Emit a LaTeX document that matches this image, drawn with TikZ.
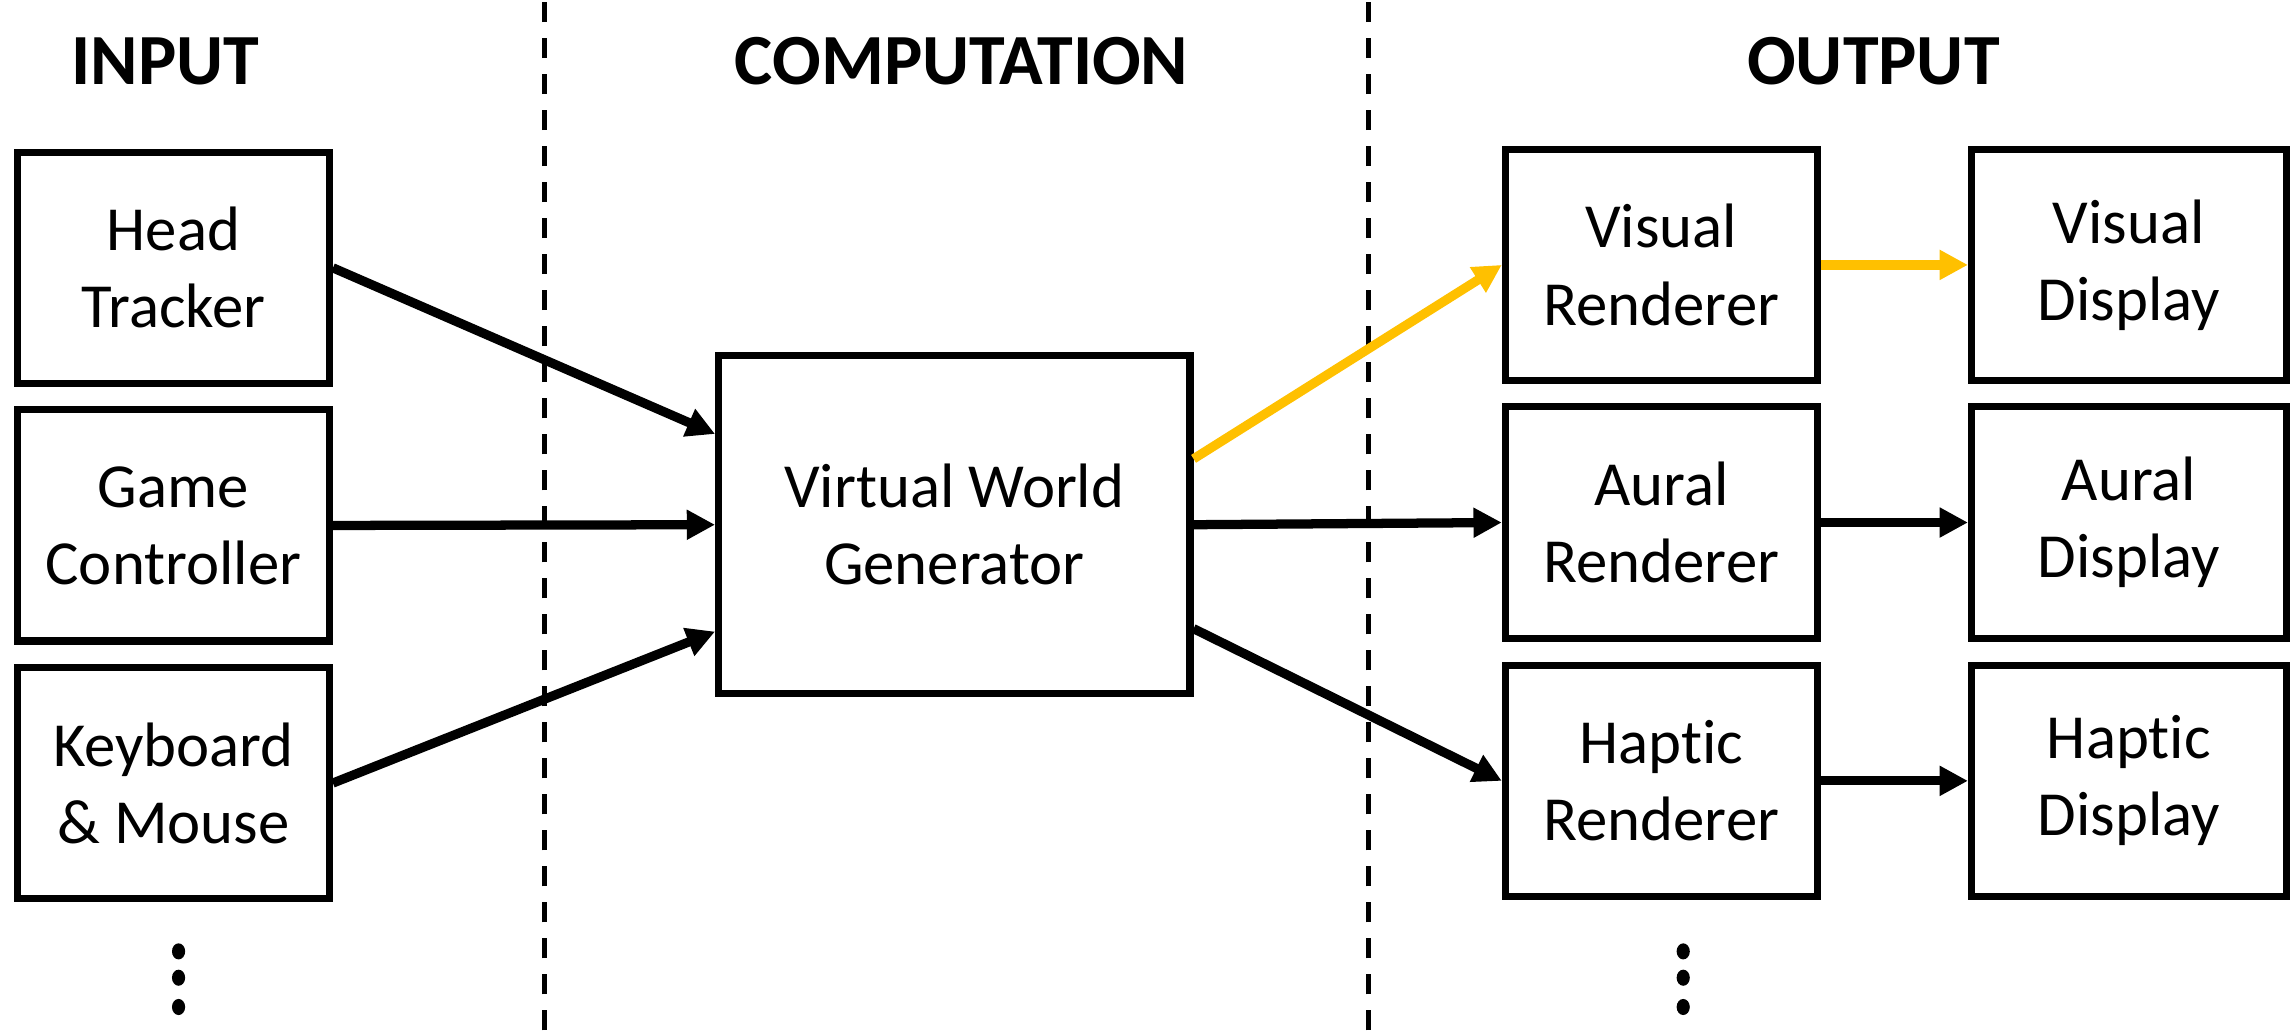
\documentclass[tikz,border=0pt]{standalone}
\usepackage{fontspec}
\setmainfont{Carlito}[Ligatures=NoCommon]
\usetikzlibrary{arrows.meta}

\definecolor{gold}{RGB}{255,192,0}

\begin{document}
\begin{tikzpicture}[
        block/.style={draw,line width=1.4pt,minimum width=2.13cm,minimum height=1.58cm,align=center,font=\fontsize{12.2}{15}\selectfont},
        flow/.style={-{Triangle[length=5.5pt,width=5.5pt]},line width=1.8pt},
        heading/.style={font=\bfseries\fontsize{14}{17}\selectfont},
        divider/.style={dash pattern=on 4pt off 3pt,line width=0.8pt}]
        \useasboundingbox (0,0) rectangle (15.68,7.04);

        \node[heading] (tin) at (1.13,6.62) {INPUT};
        \node[heading] (tcomp) at (6.57,6.62) {COMPUTATION};
        \node[heading] (tout) at (12.80,6.62) {OUTPUT};

        \draw[divider] (3.72,0) -- (3.72,7.04);
        \draw[divider] (9.35,0) -- (9.35,7.04);

        \node[block] (head) at (1.185,5.21) {Head\\Tracker};
        \node[block] (game) at (1.185,3.45) {Game\\Controller};
        \node[block] (keys) at (1.185,1.69) {Keyboard\\\& Mouse};

        \node[block,minimum width=3.22cm,minimum height=2.31cm] (vwg) at (6.52,3.455) {Virtual World\\Generator};

        \node[block] (vren) at (11.35,5.23) {Visual\\Renderer};
        \node[block] (aren) at (11.35,3.47) {Aural\\Renderer};
        \node[block] (hren) at (11.35,1.705) {Haptic\\Renderer};

        \node[block,minimum width=2.15cm] (vdis) at (14.545,5.23) {Visual\\Display};
        \node[block,minimum width=2.15cm] (adis) at (14.545,3.47) {Aural\\Display};
        \node[block,minimum width=2.15cm] (hdis) at (14.545,1.705) {Haptic\\Display};

        \draw[flow] (head.east) -- ([yshift=6.2mm]vwg.west);
        \draw[flow] (game.east) -- (vwg.west);
        \draw[flow] (keys.east) -- ([yshift=-7.3mm]vwg.west);

        \draw[flow,gold] ([yshift=4.5mm]vwg.east) -- (vren.west);
        \draw[flow] (vwg.east) -- (aren.west);
        \draw[flow] ([yshift=-7.1mm]vwg.east) -- (hren.west);

        \draw[flow,gold] (vren.east) -- (vdis.west);
        \draw[flow] (aren.east) -- (adis.west);
        \draw[flow] (hren.east) -- (hdis.west);

        \foreach \y in {0.54,0.36,0.16} {
            \fill (1.22,\y) ellipse (0.045 and 0.055);
            \fill (11.50,\y) ellipse (0.045 and 0.055);
        }
    \end{tikzpicture}
\end{document}
